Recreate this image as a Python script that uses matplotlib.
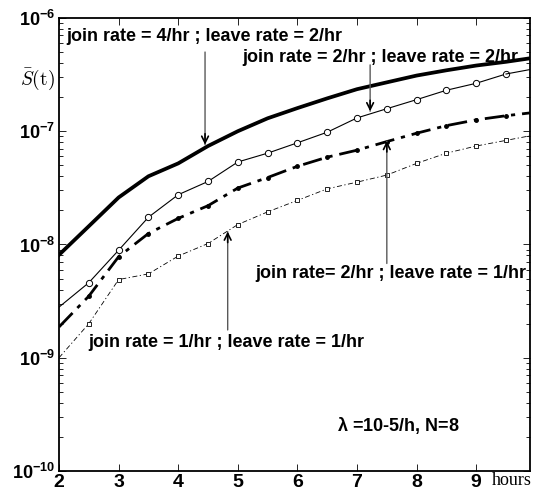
import matplotlib
matplotlib.use("Agg")
import matplotlib.pyplot as plt
from matplotlib.ticker import LogLocator, NullFormatter

plt.rcParams['font.family'] = ['Liberation Sans', 'DejaVu Sans']
plt.rcParams['mathtext.fontset'] = 'custom'
plt.rcParams['mathtext.rm'] = 'Liberation Sans'
plt.rcParams['mathtext.bf'] = 'Liberation Sans:bold'

# hours
hours = [2, 2.5, 3, 3.5, 4, 4.5, 5, 5.5, 6, 6.5, 7, 7.5, 8, 8.5, 9, 9.5, 9.9]

# join 4/hr, leave 2/hr (thick solid)
s_j4_l2 = [8.1e-9, 1.45e-8, 2.6e-8, 4.0e-8, 5.2e-8, 7.4e-8, 1.0e-7, 1.3e-7, 1.6e-7,
           1.95e-7, 2.35e-7, 2.7e-7, 3.1e-7, 3.45e-7, 3.8e-7, 4.1e-7, 4.4e-7]
# join 2/hr, leave 2/hr (circles)
s_j2_l2 = [2.8e-9, 4.6e-9, 8.9e-9, 1.74e-8, 2.75e-8, 3.6e-8, 5.35e-8, 6.4e-8, 7.9e-8,
           9.8e-8, 1.31e-7, 1.58e-7, 1.9e-7, 2.3e-7, 2.65e-7, 3.2e-7, 3.5e-7]
# join 2/hr, leave 1/hr (thick dash-dot)
s_j2_l1 = [1.87e-9, 3.5e-9, 7.8e-9, 1.25e-8, 1.7e-8, 2.2e-8, 3.15e-8, 3.9e-8, 4.9e-8,
           5.9e-8, 6.8e-8, 8.1e-8, 9.6e-8, 1.12e-7, 1.26e-7, 1.37e-7, 1.45e-7]
# join 1/hr, leave 1/hr (squares)
s_j1_l1 = [1.0e-9, 2.0e-9, 4.9e-9, 5.5e-9, 7.9e-9, 1.02e-8, 1.5e-8, 1.94e-8, 2.45e-8,
           3.1e-8, 3.55e-8, 4.1e-8, 5.2e-8, 6.4e-8, 7.4e-8, 8.3e-8, 9.1e-8]

xticks = [2, 3, 4, 5, 6, 7, 8, 9]
yticks = [1e-10, 1e-9, 1e-8, 1e-7, 1e-6]
ytick_labels = [r'$\mathbf{10^{-10}}$', r'$\mathbf{10^{-9}}$', r'$\mathbf{10^{-8}}$',
                r'$\mathbf{10^{-7}}$', r'$\mathbf{10^{-6}}$']

fig = plt.figure(figsize=(5.44, 4.93), dpi=100)
ax = fig.add_axes([0.1085, 0.0446, 0.8655, 0.919])

ax.plot(hours, s_j4_l2, '-', color='black', lw=2.7)
ax.plot(hours[:-1], s_j2_l2[:-1], '-', color='black', lw=0.8, marker='o', ms=4.5,
        mfc='white', mew=0.7, markevery=list(range(1, len(hours) - 1)))
ax.plot(hours[-2:], s_j2_l2[-2:], '-', color='black', lw=0.8)
ax.plot(hours, s_j2_l1, color='black', lw=2.0, dashes=(7, 2.5, 1.5, 2.5), marker='.', ms=5,
        markevery=list(range(1, len(hours) - 1)))
ax.plot(hours, s_j1_l1, color='black', lw=0.6, dashes=(6, 3, 1.5, 3), marker='s', ms=3.5,
        mfc='white', mew=0.6, markevery=list(range(1, len(hours) - 1)))

ax.set_yscale('log')
ax.set_xlim(2, 9.9)
ax.set_ylim(1e-10, 1e-6)
ax.set_xticks(xticks)
ax.set_xticklabels([str(t) for t in xticks], fontsize=14, fontweight='bold')
ax.set_yticks(yticks)
ax.set_yticklabels(ytick_labels, fontsize=13)
ax.yaxis.set_minor_locator(LogLocator(base=10, subs=range(2, 10)))
ax.yaxis.set_minor_formatter(NullFormatter())
ax.tick_params(which='both', direction='in', top=True, right=True, width=0.6)
ax.tick_params(which='major', length=5)
ax.tick_params(which='minor', length=3)
ax.tick_params(axis='x', pad=2)
ax.tick_params(axis='y', pad=3)
for sp in ax.spines.values():
    sp.set_linewidth(1.3)


def arrow(tip, tail):
    ax.annotate('', xy=tip, xytext=tail,
                arrowprops=dict(arrowstyle='-', color='0.35', lw=1.0, shrinkA=0, shrinkB=0))
    ax.annotate('', xy=tip, xytext=(tip[0], tip[1] * (1.25 if tail[1] > tip[1] else 0.8)),
                arrowprops=dict(arrowstyle='->', color='black', lw=1.2,
                                mutation_scale=12, shrinkA=0, shrinkB=0))


txt = dict(fontsize=13, fontweight='bold', color='black')
ax.text(2.13, 6.9e-7, 'join rate = 4/hr ; leave rate = 2/hr', ha='left', va='center', **txt)
arrow((4.45, 7.6e-8), (4.45, 5.0e-7))
ax.text(9.7, 4.5e-7, 'join rate = 2/hr ; leave rate = 2/hr', ha='right', va='center', **txt)
arrow((7.22, 1.5e-7), (7.22, 3.85e-7))
ax.text(9.84, 5.5e-9, 'join rate= 2/hr ; leave rate = 1/hr', ha='right', va='center', **txt)
arrow((7.5, 8.2e-8), (7.5, 6.8e-9))
ax.text(2.49, 1.35e-9, 'join rate = 1/hr ; leave rate = 1/hr', ha='left', va='center', **txt)
arrow((4.83, 1.3e-8), (4.83, 1.76e-9))
ax.text(7.70, 2.5e-10, r'$\mathbf{\lambda}$ =10-5/h, N=8', ha='center', va='center', **txt)

ax.text(-0.045, 0.865, r'$\bar{S}(\mathrm{t})$', transform=ax.transAxes, fontsize=14,
        math_fontfamily='cm', ha='center', va='center')
ax.text(0.962, -0.022, 'hours', transform=ax.transAxes, fontsize=13,
        family='Liberation Serif', ha='center', va='center')

fig.savefig('out.png', dpi=100)
